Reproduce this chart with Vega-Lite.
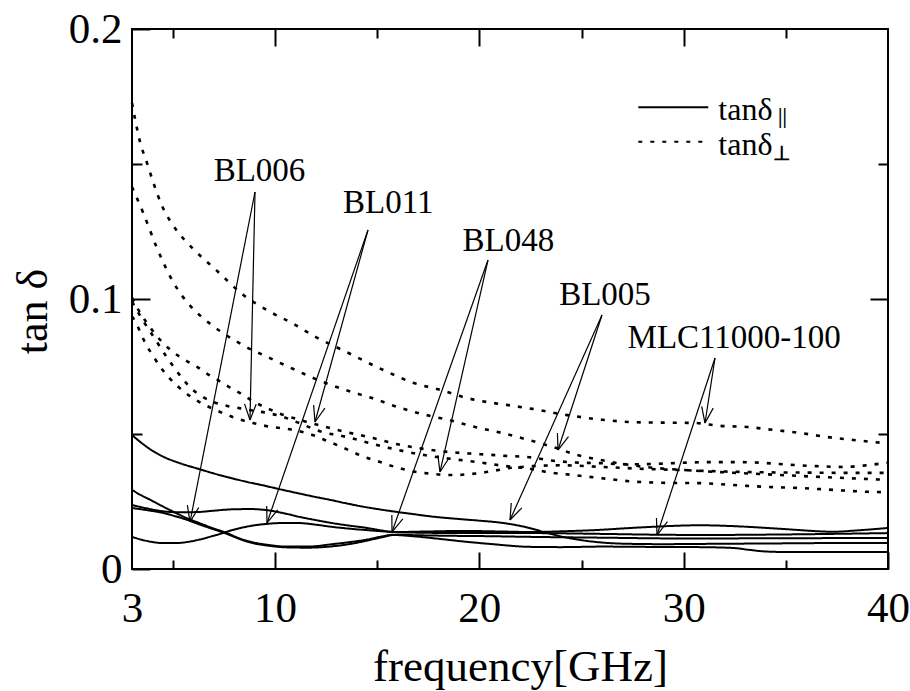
{
  "$schema": "https://vega.github.io/schema/vega-lite/v6.json",
  "width": 756,
  "height": 540,
  "autosize": "none",
  "padding": {"left": 132, "top": 29, "right": 22, "bottom": 122},
  "background": "white",
  "config": {
    "view": {"stroke": "black", "strokeWidth": 2},
    "font": "Liberation Serif",
    "text": {"font": "Liberation Serif", "color": "black"}
  },
  "datasets": {
    "curves": [
      {"material":"MLC11000-100","pol":"perpendicular","f":3,"v":0.1726},
      {"material":"MLC11000-100","pol":"perpendicular","f":3.4,"v":0.158},
      {"material":"MLC11000-100","pol":"perpendicular","f":3.75,"v":0.150},
      {"material":"MLC11000-100","pol":"perpendicular","f":4.05,"v":0.143},
      {"material":"MLC11000-100","pol":"perpendicular","f":4.5,"v":0.134},
      {"material":"MLC11000-100","pol":"perpendicular","f":4.9,"v":0.1285},
      {"material":"MLC11000-100","pol":"perpendicular","f":5.5,"v":0.1225},
      {"material":"MLC11000-100","pol":"perpendicular","f":6.0,"v":0.1185},
      {"material":"MLC11000-100","pol":"perpendicular","f":7.15,"v":0.1105},
      {"material":"MLC11000-100","pol":"perpendicular","f":8.45,"v":0.1015},
      {"material":"MLC11000-100","pol":"perpendicular","f":9.7,"v":0.0955},
      {"material":"MLC11000-100","pol":"perpendicular","f":10.85,"v":0.091},
      {"material":"MLC11000-100","pol":"perpendicular","f":12.0,"v":0.0859},
      {"material":"MLC11000-100","pol":"perpendicular","f":13.3,"v":0.0811},
      {"material":"MLC11000-100","pol":"perpendicular","f":15.3,"v":0.0737},
      {"material":"MLC11000-100","pol":"perpendicular","f":16.75,"v":0.069},
      {"material":"MLC11000-100","pol":"perpendicular","f":18.1,"v":0.0663},
      {"material":"MLC11000-100","pol":"perpendicular","f":19.4,"v":0.0633},
      {"material":"MLC11000-100","pol":"perpendicular","f":20.5,"v":0.0617},
      {"material":"MLC11000-100","pol":"perpendicular","f":21.4,"v":0.0607},
      {"material":"MLC11000-100","pol":"perpendicular","f":22.6,"v":0.0593},
      {"material":"MLC11000-100","pol":"perpendicular","f":24.3,"v":0.057},
      {"material":"MLC11000-100","pol":"perpendicular","f":26.0,"v":0.0553},
      {"material":"MLC11000-100","pol":"perpendicular","f":27.5,"v":0.0544},
      {"material":"MLC11000-100","pol":"perpendicular","f":29.0,"v":0.0542},
      {"material":"MLC11000-100","pol":"perpendicular","f":30.5,"v":0.0541},
      {"material":"MLC11000-100","pol":"perpendicular","f":31.8,"v":0.053},
      {"material":"MLC11000-100","pol":"perpendicular","f":33.1,"v":0.0526},
      {"material":"MLC11000-100","pol":"perpendicular","f":34.4,"v":0.0515},
      {"material":"MLC11000-100","pol":"perpendicular","f":35.7,"v":0.0504},
      {"material":"MLC11000-100","pol":"perpendicular","f":37.0,"v":0.0489},
      {"material":"MLC11000-100","pol":"perpendicular","f":38.3,"v":0.0478},
      {"material":"MLC11000-100","pol":"perpendicular","f":40,"v":0.0465},

      {"material":"BL005","pol":"perpendicular","f":3,"v":0.1415},
      {"material":"BL005","pol":"perpendicular","f":3.55,"v":0.1319},
      {"material":"BL005","pol":"perpendicular","f":4.2,"v":0.1193},
      {"material":"BL005","pol":"perpendicular","f":5.0,"v":0.1065},
      {"material":"BL005","pol":"perpendicular","f":5.5,"v":0.1007},
      {"material":"BL005","pol":"perpendicular","f":6.2,"v":0.0948},
      {"material":"BL005","pol":"perpendicular","f":6.9,"v":0.0904},
      {"material":"BL005","pol":"perpendicular","f":7.45,"v":0.0874},
      {"material":"BL005","pol":"perpendicular","f":8.6,"v":0.0822},
      {"material":"BL005","pol":"perpendicular","f":9.75,"v":0.0781},
      {"material":"BL005","pol":"perpendicular","f":11.0,"v":0.0737},
      {"material":"BL005","pol":"perpendicular","f":12.1,"v":0.070},
      {"material":"BL005","pol":"perpendicular","f":13.45,"v":0.0663},
      {"material":"BL005","pol":"perpendicular","f":14.75,"v":0.0633},
      {"material":"BL005","pol":"perpendicular","f":16.0,"v":0.060},
      {"material":"BL005","pol":"perpendicular","f":17.2,"v":0.0574},
      {"material":"BL005","pol":"perpendicular","f":18.5,"v":0.0552},
      {"material":"BL005","pol":"perpendicular","f":19.8,"v":0.0526},
      {"material":"BL005","pol":"perpendicular","f":21.1,"v":0.0504},
      {"material":"BL005","pol":"perpendicular","f":22.4,"v":0.0478},
      {"material":"BL005","pol":"perpendicular","f":23.6,"v":0.0452},
      {"material":"BL005","pol":"perpendicular","f":24.8,"v":0.0422},
      {"material":"BL005","pol":"perpendicular","f":25.9,"v":0.0404},
      {"material":"BL005","pol":"perpendicular","f":27.9,"v":0.0380},
      {"material":"BL005","pol":"perpendicular","f":30.8,"v":0.0363},
      {"material":"BL005","pol":"perpendicular","f":33.7,"v":0.0352},
      {"material":"BL005","pol":"perpendicular","f":36.7,"v":0.0341},
      {"material":"BL005","pol":"perpendicular","f":40,"v":0.0330},

      {"material":"BL011","pol":"perpendicular","f":3,"v":0.1004},
      {"material":"BL011","pol":"perpendicular","f":3.35,"v":0.0955},
      {"material":"BL011","pol":"perpendicular","f":3.73,"v":0.0911},
      {"material":"BL011","pol":"perpendicular","f":4.52,"v":0.0837},
      {"material":"BL011","pol":"perpendicular","f":5.0,"v":0.0804},
      {"material":"BL011","pol":"perpendicular","f":5.6,"v":0.0774},
      {"material":"BL011","pol":"perpendicular","f":6.2,"v":0.0748},
      {"material":"BL011","pol":"perpendicular","f":6.7,"v":0.0722},
      {"material":"BL011","pol":"perpendicular","f":7.3,"v":0.0695},
      {"material":"BL011","pol":"perpendicular","f":7.8,"v":0.0672},
      {"material":"BL011","pol":"perpendicular","f":8.45,"v":0.0644},
      {"material":"BL011","pol":"perpendicular","f":8.9,"v":0.0622},
      {"material":"BL011","pol":"perpendicular","f":9.6,"v":0.0596},
      {"material":"BL011","pol":"perpendicular","f":10.25,"v":0.0575},
      {"material":"BL011","pol":"perpendicular","f":10.9,"v":0.0559},
      {"material":"BL011","pol":"perpendicular","f":11.4,"v":0.0548},
      {"material":"BL011","pol":"perpendicular","f":12.2,"v":0.0532},
      {"material":"BL011","pol":"perpendicular","f":13.5,"v":0.0507},
      {"material":"BL011","pol":"perpendicular","f":14.8,"v":0.0485},
      {"material":"BL011","pol":"perpendicular","f":16.0,"v":0.0462},
      {"material":"BL011","pol":"perpendicular","f":17.35,"v":0.0444},
      {"material":"BL011","pol":"perpendicular","f":18.7,"v":0.0432},
      {"material":"BL011","pol":"perpendicular","f":19.9,"v":0.0426},
      {"material":"BL011","pol":"perpendicular","f":21.3,"v":0.0419},
      {"material":"BL011","pol":"perpendicular","f":22.6,"v":0.0413},
      {"material":"BL011","pol":"perpendicular","f":23.3,"v":0.0404},
      {"material":"BL011","pol":"perpendicular","f":24.6,"v":0.0395},
      {"material":"BL011","pol":"perpendicular","f":25.9,"v":0.0392},
      {"material":"BL011","pol":"perpendicular","f":27.2,"v":0.0388},
      {"material":"BL011","pol":"perpendicular","f":28.5,"v":0.0389},
      {"material":"BL011","pol":"perpendicular","f":29.8,"v":0.0393},
      {"material":"BL011","pol":"perpendicular","f":31.3,"v":0.0396},
      {"material":"BL011","pol":"perpendicular","f":32.6,"v":0.0396},
      {"material":"BL011","pol":"perpendicular","f":33.9,"v":0.0393},
      {"material":"BL011","pol":"perpendicular","f":35.2,"v":0.0386},
      {"material":"BL011","pol":"perpendicular","f":36.5,"v":0.0381},
      {"material":"BL011","pol":"perpendicular","f":37.8,"v":0.0378},
      {"material":"BL011","pol":"perpendicular","f":38.8,"v":0.0383},
      {"material":"BL011","pol":"perpendicular","f":40,"v":0.0394},

      {"material":"BL006","pol":"perpendicular","f":3,"v":0.099},
      {"material":"BL006","pol":"perpendicular","f":3.5,"v":0.0925},
      {"material":"BL006","pol":"perpendicular","f":4.1,"v":0.0855},
      {"material":"BL006","pol":"perpendicular","f":4.7,"v":0.0785},
      {"material":"BL006","pol":"perpendicular","f":5.1,"v":0.0742},
      {"material":"BL006","pol":"perpendicular","f":5.5,"v":0.0702},
      {"material":"BL006","pol":"perpendicular","f":5.95,"v":0.0665},
      {"material":"BL006","pol":"perpendicular","f":6.45,"v":0.0638},
      {"material":"BL006","pol":"perpendicular","f":7.0,"v":0.0618},
      {"material":"BL006","pol":"perpendicular","f":7.65,"v":0.0604},
      {"material":"BL006","pol":"perpendicular","f":8.3,"v":0.0595},
      {"material":"BL006","pol":"perpendicular","f":8.9,"v":0.0587},
      {"material":"BL006","pol":"perpendicular","f":9.6,"v":0.0578},
      {"material":"BL006","pol":"perpendicular","f":10.25,"v":0.0567},
      {"material":"BL006","pol":"perpendicular","f":11.2,"v":0.0540},
      {"material":"BL006","pol":"perpendicular","f":12.2,"v":0.0510},
      {"material":"BL006","pol":"perpendicular","f":13.5,"v":0.0489},
      {"material":"BL006","pol":"perpendicular","f":14.8,"v":0.0463},
      {"material":"BL006","pol":"perpendicular","f":16.0,"v":0.0441},
      {"material":"BL006","pol":"perpendicular","f":17.3,"v":0.0422},
      {"material":"BL006","pol":"perpendicular","f":18.7,"v":0.0407},
      {"material":"BL006","pol":"perpendicular","f":19.9,"v":0.0396},
      {"material":"BL006","pol":"perpendicular","f":21.3,"v":0.0381},
      {"material":"BL006","pol":"perpendicular","f":22.6,"v":0.037},
      {"material":"BL006","pol":"perpendicular","f":23.3,"v":0.0359},
      {"material":"BL006","pol":"perpendicular","f":24.6,"v":0.0348},
      {"material":"BL006","pol":"perpendicular","f":25.9,"v":0.0337},
      {"material":"BL006","pol":"perpendicular","f":27.5,"v":0.0324},
      {"material":"BL006","pol":"perpendicular","f":29.2,"v":0.0319},
      {"material":"BL006","pol":"perpendicular","f":30.8,"v":0.0318},
      {"material":"BL006","pol":"perpendicular","f":32.4,"v":0.0311},
      {"material":"BL006","pol":"perpendicular","f":34.1,"v":0.0304},
      {"material":"BL006","pol":"perpendicular","f":35.7,"v":0.030},
      {"material":"BL006","pol":"perpendicular","f":37.3,"v":0.0293},
      {"material":"BL006","pol":"perpendicular","f":39,"v":0.0286},
      {"material":"BL006","pol":"perpendicular","f":40,"v":0.0284},

      {"material":"BL048","pol":"perpendicular","f":3,"v":0.0935},
      {"material":"BL048","pol":"perpendicular","f":3.2,"v":0.0912},
      {"material":"BL048","pol":"perpendicular","f":3.4,"v":0.0878},
      {"material":"BL048","pol":"perpendicular","f":3.65,"v":0.0837},
      {"material":"BL048","pol":"perpendicular","f":4.0,"v":0.0793},
      {"material":"BL048","pol":"perpendicular","f":4.37,"v":0.0750},
      {"material":"BL048","pol":"perpendicular","f":4.76,"v":0.0713},
      {"material":"BL048","pol":"perpendicular","f":5.25,"v":0.0676},
      {"material":"BL048","pol":"perpendicular","f":6.0,"v":0.0632},
      {"material":"BL048","pol":"perpendicular","f":7.06,"v":0.0590},
      {"material":"BL048","pol":"perpendicular","f":7.65,"v":0.0571},
      {"material":"BL048","pol":"perpendicular","f":8.3,"v":0.0553},
      {"material":"BL048","pol":"perpendicular","f":8.9,"v":0.0541},
      {"material":"BL048","pol":"perpendicular","f":9.6,"v":0.0529},
      {"material":"BL048","pol":"perpendicular","f":10.25,"v":0.0522},
      {"material":"BL048","pol":"perpendicular","f":10.9,"v":0.0515},
      {"material":"BL048","pol":"perpendicular","f":11.5,"v":0.0504},
      {"material":"BL048","pol":"perpendicular","f":12.0,"v":0.0492},
      {"material":"BL048","pol":"perpendicular","f":12.5,"v":0.0476},
      {"material":"BL048","pol":"perpendicular","f":13.1,"v":0.0457},
      {"material":"BL048","pol":"perpendicular","f":13.7,"v":0.0437},
      {"material":"BL048","pol":"perpendicular","f":14.3,"v":0.0417},
      {"material":"BL048","pol":"perpendicular","f":15.0,"v":0.0400},
      {"material":"BL048","pol":"perpendicular","f":15.5,"v":0.0387},
      {"material":"BL048","pol":"perpendicular","f":16.2,"v":0.0371},
      {"material":"BL048","pol":"perpendicular","f":16.85,"v":0.0360},
      {"material":"BL048","pol":"perpendicular","f":17.5,"v":0.0354},
      {"material":"BL048","pol":"perpendicular","f":18.2,"v":0.0349},
      {"material":"BL048","pol":"perpendicular","f":18.8,"v":0.0348},
      {"material":"BL048","pol":"perpendicular","f":19.45,"v":0.0351},
      {"material":"BL048","pol":"perpendicular","f":20.1,"v":0.0356},
      {"material":"BL048","pol":"perpendicular","f":20.8,"v":0.0365},
      {"material":"BL048","pol":"perpendicular","f":21.4,"v":0.0373},
      {"material":"BL048","pol":"perpendicular","f":22.1,"v":0.0378},
      {"material":"BL048","pol":"perpendicular","f":22.6,"v":0.0381},
      {"material":"BL048","pol":"perpendicular","f":24,"v":0.0384},
      {"material":"BL048","pol":"perpendicular","f":26,"v":0.0378},
      {"material":"BL048","pol":"perpendicular","f":28,"v":0.0371},
      {"material":"BL048","pol":"perpendicular","f":30,"v":0.0366},
      {"material":"BL048","pol":"perpendicular","f":32,"v":0.0361},
      {"material":"BL048","pol":"perpendicular","f":34,"v":0.0358},
      {"material":"BL048","pol":"perpendicular","f":36,"v":0.0357},
      {"material":"BL048","pol":"perpendicular","f":38,"v":0.0356},
      {"material":"BL048","pol":"perpendicular","f":40,"v":0.0356},

      {"material":"BL005","pol":"parallel","f":3,"v":0.0496},
      {"material":"BL005","pol":"parallel","f":3.5,"v":0.0465},
      {"material":"BL005","pol":"parallel","f":4.0,"v":0.0438},
      {"material":"BL005","pol":"parallel","f":4.5,"v":0.0417},
      {"material":"BL005","pol":"parallel","f":5.3,"v":0.0393},
      {"material":"BL005","pol":"parallel","f":6.2,"v":0.0372},
      {"material":"BL005","pol":"parallel","f":7.0,"v":0.0354},
      {"material":"BL005","pol":"parallel","f":7.8,"v":0.0338},
      {"material":"BL005","pol":"parallel","f":8.6,"v":0.0323},
      {"material":"BL005","pol":"parallel","f":9.4,"v":0.0310},
      {"material":"BL005","pol":"parallel","f":10.2,"v":0.0296},
      {"material":"BL005","pol":"parallel","f":11.1,"v":0.0281},
      {"material":"BL005","pol":"parallel","f":11.9,"v":0.0268},
      {"material":"BL005","pol":"parallel","f":12.7,"v":0.0256},
      {"material":"BL005","pol":"parallel","f":13.5,"v":0.0243},
      {"material":"BL005","pol":"parallel","f":14.3,"v":0.0231},
      {"material":"BL005","pol":"parallel","f":15.1,"v":0.0221},
      {"material":"BL005","pol":"parallel","f":16.0,"v":0.0211},
      {"material":"BL005","pol":"parallel","f":16.8,"v":0.0203},
      {"material":"BL005","pol":"parallel","f":17.6,"v":0.0195},
      {"material":"BL005","pol":"parallel","f":18.4,"v":0.0189},
      {"material":"BL005","pol":"parallel","f":19.2,"v":0.0184},
      {"material":"BL005","pol":"parallel","f":20.0,"v":0.0179},
      {"material":"BL005","pol":"parallel","f":21.0,"v":0.0172},
      {"material":"BL005","pol":"parallel","f":21.7,"v":0.0164},
      {"material":"BL005","pol":"parallel","f":22.5,"v":0.0151},
      {"material":"BL005","pol":"parallel","f":23.3,"v":0.0134},
      {"material":"BL005","pol":"parallel","f":24.1,"v":0.0119},
      {"material":"BL005","pol":"parallel","f":24.9,"v":0.0108},
      {"material":"BL005","pol":"parallel","f":26.0,"v":0.0098},
      {"material":"BL005","pol":"parallel","f":27.5,"v":0.0093},
      {"material":"BL005","pol":"parallel","f":29,"v":0.0092},
      {"material":"BL005","pol":"parallel","f":31,"v":0.0093},
      {"material":"BL005","pol":"parallel","f":33,"v":0.0094},
      {"material":"BL005","pol":"parallel","f":35,"v":0.0095},
      {"material":"BL005","pol":"parallel","f":37,"v":0.0096},
      {"material":"BL005","pol":"parallel","f":40,"v":0.0096},

      {"material":"BL006","pol":"parallel","f":3,"v":0.0293},
      {"material":"BL006","pol":"parallel","f":3.4,"v":0.0275},
      {"material":"BL006","pol":"parallel","f":3.9,"v":0.0256},
      {"material":"BL006","pol":"parallel","f":4.4,"v":0.0236},
      {"material":"BL006","pol":"parallel","f":5.0,"v":0.0213},
      {"material":"BL006","pol":"parallel","f":5.6,"v":0.0191},
      {"material":"BL006","pol":"parallel","f":6.3,"v":0.0170},
      {"material":"BL006","pol":"parallel","f":7.0,"v":0.0150},
      {"material":"BL006","pol":"parallel","f":7.65,"v":0.0133},
      {"material":"BL006","pol":"parallel","f":8.2,"v":0.0115},
      {"material":"BL006","pol":"parallel","f":8.8,"v":0.0101},
      {"material":"BL006","pol":"parallel","f":9.6,"v":0.0090},
      {"material":"BL006","pol":"parallel","f":10.6,"v":0.0083},
      {"material":"BL006","pol":"parallel","f":11.6,"v":0.0083},
      {"material":"BL006","pol":"parallel","f":12.8,"v":0.0092},
      {"material":"BL006","pol":"parallel","f":13.7,"v":0.0100},
      {"material":"BL006","pol":"parallel","f":14.5,"v":0.0109},
      {"material":"BL006","pol":"parallel","f":15.2,"v":0.0120},
      {"material":"BL006","pol":"parallel","f":15.8,"v":0.0127},
      {"material":"BL006","pol":"parallel","f":17.0,"v":0.0125},
      {"material":"BL006","pol":"parallel","f":18.5,"v":0.0123},
      {"material":"BL006","pol":"parallel","f":20,"v":0.0122},
      {"material":"BL006","pol":"parallel","f":22.5,"v":0.0119},
      {"material":"BL006","pol":"parallel","f":26,"v":0.0116},
      {"material":"BL006","pol":"parallel","f":30,"v":0.0113},
      {"material":"BL006","pol":"parallel","f":35,"v":0.0114},
      {"material":"BL006","pol":"parallel","f":40,"v":0.0115},

      {"material":"BL048","pol":"parallel","f":3,"v":0.0226},
      {"material":"BL048","pol":"parallel","f":3.9,"v":0.0216},
      {"material":"BL048","pol":"parallel","f":4.5,"v":0.0208},
      {"material":"BL048","pol":"parallel","f":5.0,"v":0.0198},
      {"material":"BL048","pol":"parallel","f":5.7,"v":0.0182},
      {"material":"BL048","pol":"parallel","f":6.3,"v":0.0165},
      {"material":"BL048","pol":"parallel","f":7.0,"v":0.0147},
      {"material":"BL048","pol":"parallel","f":7.65,"v":0.0130},
      {"material":"BL048","pol":"parallel","f":8.2,"v":0.0113},
      {"material":"BL048","pol":"parallel","f":8.8,"v":0.0098},
      {"material":"BL048","pol":"parallel","f":9.6,"v":0.0087},
      {"material":"BL048","pol":"parallel","f":10.6,"v":0.0080},
      {"material":"BL048","pol":"parallel","f":11.6,"v":0.0079},
      {"material":"BL048","pol":"parallel","f":12.8,"v":0.0084},
      {"material":"BL048","pol":"parallel","f":13.7,"v":0.0093},
      {"material":"BL048","pol":"parallel","f":14.5,"v":0.0105},
      {"material":"BL048","pol":"parallel","f":15.2,"v":0.0117},
      {"material":"BL048","pol":"parallel","f":15.8,"v":0.0126},
      {"material":"BL048","pol":"parallel","f":16.8,"v":0.0121},
      {"material":"BL048","pol":"parallel","f":18,"v":0.0112},
      {"material":"BL048","pol":"parallel","f":19.2,"v":0.0102},
      {"material":"BL048","pol":"parallel","f":20.5,"v":0.0093},
      {"material":"BL048","pol":"parallel","f":22.5,"v":0.0082},
      {"material":"BL048","pol":"parallel","f":24,"v":0.0081},
      {"material":"BL048","pol":"parallel","f":26,"v":0.0083},
      {"material":"BL048","pol":"parallel","f":28,"v":0.0082},
      {"material":"BL048","pol":"parallel","f":30.8,"v":0.0081},
      {"material":"BL048","pol":"parallel","f":32.4,"v":0.0078},
      {"material":"BL048","pol":"parallel","f":33.2,"v":0.0071},
      {"material":"BL048","pol":"parallel","f":34,"v":0.0065},
      {"material":"BL048","pol":"parallel","f":35,"v":0.0063},
      {"material":"BL048","pol":"parallel","f":37,"v":0.0063},
      {"material":"BL048","pol":"parallel","f":40,"v":0.0063},

      {"material":"BL011","pol":"parallel","f":3,"v":0.0119},
      {"material":"BL011","pol":"parallel","f":3.5,"v":0.0108},
      {"material":"BL011","pol":"parallel","f":4.0,"v":0.0100},
      {"material":"BL011","pol":"parallel","f":4.5,"v":0.0096},
      {"material":"BL011","pol":"parallel","f":5.1,"v":0.0096},
      {"material":"BL011","pol":"parallel","f":5.7,"v":0.0100},
      {"material":"BL011","pol":"parallel","f":6.3,"v":0.0109},
      {"material":"BL011","pol":"parallel","f":6.8,"v":0.0119},
      {"material":"BL011","pol":"parallel","f":7.4,"v":0.0132},
      {"material":"BL011","pol":"parallel","f":7.9,"v":0.0144},
      {"material":"BL011","pol":"parallel","f":8.5,"v":0.0155},
      {"material":"BL011","pol":"parallel","f":9.1,"v":0.0163},
      {"material":"BL011","pol":"parallel","f":9.6,"v":0.0167},
      {"material":"BL011","pol":"parallel","f":10.2,"v":0.0170},
      {"material":"BL011","pol":"parallel","f":11.2,"v":0.0170},
      {"material":"BL011","pol":"parallel","f":12.0,"v":0.0164},
      {"material":"BL011","pol":"parallel","f":12.8,"v":0.0156},
      {"material":"BL011","pol":"parallel","f":13.7,"v":0.0149},
      {"material":"BL011","pol":"parallel","f":14.5,"v":0.0144},
      {"material":"BL011","pol":"parallel","f":15.8,"v":0.0137},
      {"material":"BL011","pol":"parallel","f":17.5,"v":0.0134},
      {"material":"BL011","pol":"parallel","f":19.2,"v":0.0133},
      {"material":"BL011","pol":"parallel","f":22.5,"v":0.0133},
      {"material":"BL011","pol":"parallel","f":26,"v":0.0130},
      {"material":"BL011","pol":"parallel","f":28.7,"v":0.0127},
      {"material":"BL011","pol":"parallel","f":31,"v":0.0126},
      {"material":"BL011","pol":"parallel","f":35,"v":0.0128},
      {"material":"BL011","pol":"parallel","f":40,"v":0.0133},

      {"material":"MLC11000-100","pol":"parallel","f":3,"v":0.0237},
      {"material":"MLC11000-100","pol":"parallel","f":3.7,"v":0.0225},
      {"material":"MLC11000-100","pol":"parallel","f":4.5,"v":0.0214},
      {"material":"MLC11000-100","pol":"parallel","f":5.3,"v":0.0210},
      {"material":"MLC11000-100","pol":"parallel","f":6.2,"v":0.0211},
      {"material":"MLC11000-100","pol":"parallel","f":7.0,"v":0.0216},
      {"material":"MLC11000-100","pol":"parallel","f":7.9,"v":0.0221},
      {"material":"MLC11000-100","pol":"parallel","f":8.8,"v":0.0222},
      {"material":"MLC11000-100","pol":"parallel","f":9.6,"v":0.0218},
      {"material":"MLC11000-100","pol":"parallel","f":10.4,"v":0.0207},
      {"material":"MLC11000-100","pol":"parallel","f":11.2,"v":0.0193},
      {"material":"MLC11000-100","pol":"parallel","f":12.0,"v":0.0181},
      {"material":"MLC11000-100","pol":"parallel","f":12.8,"v":0.0170},
      {"material":"MLC11000-100","pol":"parallel","f":13.7,"v":0.0160},
      {"material":"MLC11000-100","pol":"parallel","f":14.5,"v":0.0152},
      {"material":"MLC11000-100","pol":"parallel","f":15.2,"v":0.0143},
      {"material":"MLC11000-100","pol":"parallel","f":15.8,"v":0.0137},
      {"material":"MLC11000-100","pol":"parallel","f":17.5,"v":0.0139},
      {"material":"MLC11000-100","pol":"parallel","f":19.2,"v":0.0141},
      {"material":"MLC11000-100","pol":"parallel","f":21,"v":0.0139},
      {"material":"MLC11000-100","pol":"parallel","f":22.5,"v":0.0137},
      {"material":"MLC11000-100","pol":"parallel","f":24.2,"v":0.0140},
      {"material":"MLC11000-100","pol":"parallel","f":25.9,"v":0.0145},
      {"material":"MLC11000-100","pol":"parallel","f":27.2,"v":0.0151},
      {"material":"MLC11000-100","pol":"parallel","f":28.4,"v":0.0156},
      {"material":"MLC11000-100","pol":"parallel","f":29.6,"v":0.0160},
      {"material":"MLC11000-100","pol":"parallel","f":30.8,"v":0.0162},
      {"material":"MLC11000-100","pol":"parallel","f":32,"v":0.0160},
      {"material":"MLC11000-100","pol":"parallel","f":33.2,"v":0.0156},
      {"material":"MLC11000-100","pol":"parallel","f":34.5,"v":0.0150},
      {"material":"MLC11000-100","pol":"parallel","f":35.7,"v":0.0144},
      {"material":"MLC11000-100","pol":"parallel","f":36.5,"v":0.0140},
      {"material":"MLC11000-100","pol":"parallel","f":37.3,"v":0.0138},
      {"material":"MLC11000-100","pol":"parallel","f":38.5,"v":0.0143},
      {"material":"MLC11000-100","pol":"parallel","f":40,"v":0.0152}
    ],
    "arrows": [
      {"label":"BL006","f1":9.020,"v1":0.13963,"f2":8.775,"v2":0.05519},
      {"label":"BL006","f1":8.775,"v1":0.05519,"f2":9.077,"v2":0.06105},
      {"label":"BL006","f1":8.775,"v1":0.05519,"f2":8.508,"v2":0.06115},
      {"label":"BL006","f1":9.020,"v1":0.13963,"f2":5.839,"v2":0.01741},
      {"label":"BL006","f1":5.839,"v1":0.01741,"f2":6.269,"v2":0.02280},
      {"label":"BL006","f1":5.839,"v1":0.01741,"f2":5.710,"v2":0.02363},
      {"label":"BL011","f1":14.550,"v1":0.12556,"f2":11.956,"v2":0.05444},
      {"label":"BL011","f1":11.956,"v1":0.05444,"f2":12.439,"v2":0.05957},
      {"label":"BL011","f1":11.956,"v1":0.05444,"f2":11.890,"v2":0.06072},
      {"label":"BL011","f1":14.550,"v1":0.12556,"f2":9.607,"v2":0.01704},
      {"label":"BL011","f1":9.607,"v1":0.01704,"f2":10.131,"v2":0.02193},
      {"label":"BL011","f1":9.607,"v1":0.01704,"f2":9.593,"v2":0.02333},
      {"label":"BL048","f1":20.423,"v1":0.11444,"f2":18.074,"v2":0.03593},
      {"label":"BL048","f1":18.074,"v1":0.03593,"f2":18.524,"v2":0.04122},
      {"label":"BL048","f1":18.074,"v1":0.03593,"f2":17.969,"v2":0.04217},
      {"label":"BL048","f1":20.423,"v1":0.11444,"f2":15.725,"v2":0.01370},
      {"label":"BL048","f1":15.725,"v1":0.01370,"f2":16.253,"v2":0.01857},
      {"label":"BL048","f1":15.725,"v1":0.01370,"f2":15.717,"v2":0.02000},
      {"label":"BL005","f1":26.003,"v1":0.09407,"f2":23.849,"v2":0.04407},
      {"label":"BL005","f1":23.849,"v1":0.04407,"f2":24.362,"v2":0.04903},
      {"label":"BL005","f1":23.849,"v1":0.04407,"f2":23.821,"v2":0.05037},
      {"label":"BL005","f1":26.003,"v1":0.09407,"f2":21.500,"v2":0.01815},
      {"label":"BL005","f1":21.500,"v1":0.01815,"f2":22.080,"v2":0.02266},
      {"label":"BL005","f1":21.500,"v1":0.01815,"f2":21.561,"v2":0.02443},
      {"label":"MLC11000-100","f1":31.533,"v1":0.07815,"f2":31.044,"v2":0.05407},
      {"label":"MLC11000-100","f1":31.044,"v1":0.05407,"f2":31.444,"v2":0.05959},
      {"label":"MLC11000-100","f1":31.044,"v1":0.05407,"f2":30.881,"v2":0.06025},
      {"label":"MLC11000-100","f1":31.533,"v1":0.07815,"f2":28.695,"v2":0.01259},
      {"label":"MLC11000-100","f1":28.695,"v1":0.01259,"f2":29.208,"v2":0.01754},
      {"label":"MLC11000-100","f1":28.695,"v1":0.01259,"f2":28.668,"v2":0.01889}
    ],
    "labels": [
      {"text":"BL006","f":9.24,"v":0.14381},
      {"text":"BL011","f":15.545,"v":0.13174},
      {"text":"BL048","f":21.418,"v":0.11789},
      {"text":"BL005","f":26.15,"v":0.09778},
      {"text":"MLC11000-100","f":32.473,"v":0.08174}
    ],
    "legendLines": [
      {"pol":"parallel","f1":27.779,"f2":31.205,"v":0.1710},
      {"pol":"perpendicular","f1":27.779,"f2":31.205,"v":0.15826}
    ],
    "legendText": [
      {"text":"tanδ","f":31.695,"v":0.1663},
      {"text":"tanδ","f":31.695,"v":0.15333}
    ],
    "legendSub": [
      {"text":"||","f":34.617,"v":0.16519},
      {"text":"⊥","f":34.372,"v":0.15148}
    ]
  },
  "layer": [
    {
      "data": {"name": "curves"},
      "mark": {"type": "line", "interpolate": "monotone", "color": "black", "strokeCap": "butt"},
      "encoding": {
        "x": {
          "field": "f", "type": "quantitative",
          "scale": {"domain": [3, 40], "nice": false, "zero": false},
          "axis": {
            "orient": "bottom",
            "values": [3, 5, 10, 15, 20, 25, 30, 35, 40],
            "format": "d",
            "labelExpr": "datum.value == 3 || datum.value % 10 == 0 ? datum.label : ''",
            "labelFont": "Liberation Serif", "labelFontSize": 43, "labelColor": "black",
            "labelPadding": 35, "labelFlush": false, "labelOverlap": false,
            "tickSize": {"condition": {"test": "datum.value % 10 == 0 || datum.value == 3", "value": -17}, "value": -9},
            "tickOpacity": {"condition": {"test": "datum.value == 3", "value": 0}, "value": 1},
            "tickColor": "black", "tickWidth": 2,
            "domain": false, "grid": false,
            "title": "frequency[GHz]",
            "titleFont": "Liberation Serif", "titleFontSize": 45, "titleFontWeight": "normal", "titleColor": "black",
            "titleX": 388, "titleY": 111, "titleBaseline": "alphabetic", "titleAlign": "center"
          }
        },
        "y": {
          "field": "v", "type": "quantitative",
          "scale": {"domain": [0, 0.2], "nice": false, "zero": false},
          "axis": {
            "orient": "left",
            "values": [0, 0.05, 0.1, 0.15, 0.2],
            "format": "~g",
            "labelExpr": "abs(datum.value - 0.05) < 1e-6 || abs(datum.value - 0.15) < 1e-6 ? '' : datum.label",
            "labelFont": "Liberation Serif", "labelFontSize": 43, "labelColor": "black",
            "labelPadding": 28, "labelFlush": false, "labelOverlap": false,
            "tickSize": {"condition": {"test": "abs(datum.value - 0.05) < 1e-6 || abs(datum.value - 0.15) < 1e-6", "value": -10}, "value": -18},
            "tickColor": "black", "tickWidth": 2,
            "domain": false, "grid": false,
            "title": "tan δ",
            "titleFont": "Liberation Serif", "titleFontSize": 44, "titleFontWeight": "normal", "titleColor": "black",
            "titleAngle": -90, "titleX": -86, "titleY": 282, "titleBaseline": "alphabetic", "titleAlign": "center"
          }
        },
        "detail": [{"field": "material"}, {"field": "pol"}],
        "strokeDash": {
          "field": "pol", "type": "nominal",
          "scale": {"domain": ["parallel", "perpendicular"], "range": [[1, 0], [4, 8]]},
          "legend": null
        },
        "strokeWidth": {
          "field": "pol", "type": "nominal",
          "scale": {"domain": ["parallel", "perpendicular"], "range": [2, 2.6]},
          "legend": null
        }
      }
    },
    {
      "data": {"name": "arrows"},
      "mark": {"type": "rule", "color": "black", "strokeWidth": 1.2},
      "encoding": {
        "x": {
          "field": "f1", "type": "quantitative",
          "scale": {"domain": [3, 40], "nice": false, "zero": false},
          "axis": {
            "orient": "top",
            "values": [5, 10, 15, 20, 25, 30, 35],
            "labels": false,
            "tickSize": {"condition": {"test": "datum.value % 10 == 0", "value": -17}, "value": -9},
            "tickColor": "black", "tickWidth": 2,
            "domain": false, "grid": false, "title": null
          }
        },
        "y": {
          "field": "v1", "type": "quantitative",
          "scale": {"domain": [0, 0.2], "nice": false, "zero": false},
          "axis": {
            "orient": "right",
            "values": [0.05, 0.1, 0.15],
            "labels": false,
            "tickSize": {"condition": {"test": "abs(datum.value - 0.1) < 1e-6", "value": -18}, "value": -10},
            "tickColor": "black", "tickWidth": 2,
            "domain": false, "grid": false, "title": null
          }
        },
        "x2": {"field": "f2"},
        "y2": {"field": "v2"}
      }
    },
    {
      "data": {"name": "labels"},
      "mark": {"type": "text", "font": "Liberation Serif", "fontSize": 33, "align": "center", "baseline": "alphabetic", "color": "black"},
      "encoding": {
        "x": {"field": "f", "type": "quantitative", "scale": {"domain": [3, 40], "nice": false, "zero": false}, "axis": null},
        "y": {"field": "v", "type": "quantitative", "scale": {"domain": [0, 0.2], "nice": false, "zero": false}, "axis": null},
        "text": {"field": "text"}
      }
    },
    {
      "data": {"name": "legendLines"},
      "mark": {"type": "rule", "color": "black", "strokeWidth": 2, "strokeCap": "butt"},
      "encoding": {
        "x": {"field": "f1", "type": "quantitative", "scale": {"domain": [3, 40], "nice": false, "zero": false}, "axis": null},
        "x2": {"field": "f2"},
        "y": {"field": "v", "type": "quantitative", "scale": {"domain": [0, 0.2], "nice": false, "zero": false}, "axis": null},
        "strokeDash": {
          "field": "pol", "type": "nominal",
          "scale": {"domain": ["parallel", "perpendicular"], "range": [[1, 0], [4, 8]]},
          "legend": null
        }
      }
    },
    {
      "data": {"name": "legendText"},
      "mark": {"type": "text", "font": "Liberation Serif", "fontSize": 32, "align": "left", "baseline": "alphabetic", "color": "black"},
      "encoding": {
        "x": {"field": "f", "type": "quantitative", "scale": {"domain": [3, 40], "nice": false, "zero": false}, "axis": null},
        "y": {"field": "v", "type": "quantitative", "scale": {"domain": [0, 0.2], "nice": false, "zero": false}, "axis": null},
        "text": {"field": "text"}
      }
    },
    {
      "data": {"name": "legendSub"},
      "mark": {"type": "text", "font": "Liberation Serif", "fontSize": 20, "fontWeight": "bold", "align": "left", "baseline": "alphabetic", "color": "black"},
      "encoding": {
        "x": {"field": "f", "type": "quantitative", "scale": {"domain": [3, 40], "nice": false, "zero": false}, "axis": null},
        "y": {"field": "v", "type": "quantitative", "scale": {"domain": [0, 0.2], "nice": false, "zero": false}, "axis": null},
        "text": {"field": "text"}
      }
    }
  ],
  "resolve": {"axis": {"x": "independent", "y": "independent"}}
}
